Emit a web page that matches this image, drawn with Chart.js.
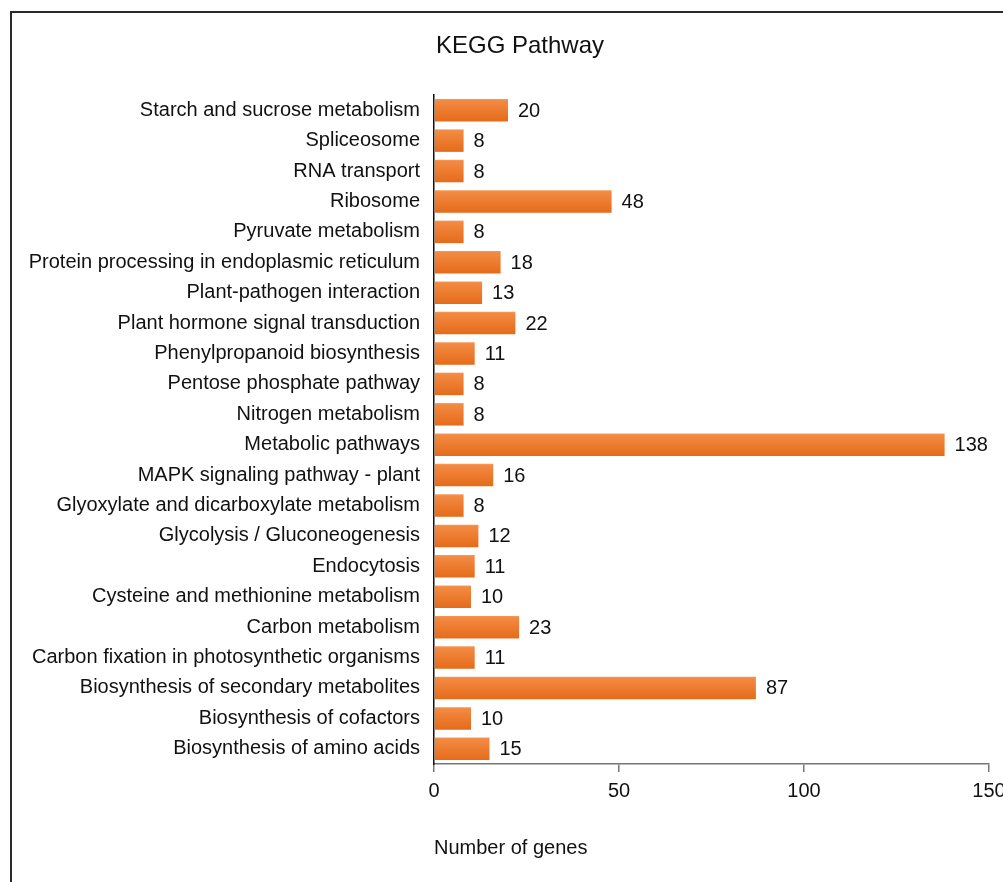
<!DOCTYPE html>
<html>
<head>
<meta charset="utf-8">
<script src="https://cdn.jsdelivr.net/npm/chart.js@4.4.1/dist/chart.umd.min.js"></script>
<style>
  html, body { margin: 0; padding: 0; background: #fff; overflow: hidden; width: 1003px; height: 882px; }
  #wrap { position: absolute; left: 0; top: 0; width: 1040px; height: 882px; }
  #frame { position: absolute; left: 10px; top: 11px; width: 1100px; height: 1000px;
           border-left: 2px solid #2a2a2a; border-top: 2px solid #2a2a2a; pointer-events: none; }
</style>
</head>
<body>
<div id="wrap"><canvas id="chart" width="1040" height="882"></canvas></div>
<div id="frame"></div>
<script>
// KEGG pathway categories and the number of genes in each
const pathways = [
  'Starch and sucrose metabolism',
  'Spliceosome',
  'RNA transport',
  'Ribosome',
  'Pyruvate metabolism',
  'Protein processing in endoplasmic reticulum',
  'Plant-pathogen interaction',
  'Plant hormone signal transduction',
  'Phenylpropanoid biosynthesis',
  'Pentose phosphate pathway',
  'Nitrogen metabolism',
  'Metabolic pathways',
  'MAPK signaling pathway - plant',
  'Glyoxylate and dicarboxylate metabolism',
  'Glycolysis / Gluconeogenesis',
  'Endocytosis',
  'Cysteine and methionine metabolism',
  'Carbon metabolism',
  'Carbon fixation in photosynthetic organisms',
  'Biosynthesis of secondary metabolites',
  'Biosynthesis of cofactors',
  'Biosynthesis of amino acids'
];
const geneCounts = [20, 8, 8, 48, 8, 18, 13, 22, 11, 8, 8, 138, 16, 8, 12, 11, 10, 23, 11, 87, 10, 15];
const xTicks = [0, 50, 100, 150];
const chartTitle = 'KEGG Pathway';

const FONT = "'Liberation Sans', Arial, sans-serif";
const BAR_PCT = 0.74;

// vertical orange shading for each bar, lighter on top
function barFill(ctx) {
  const chart = ctx.chart;
  const y = chart.scales && chart.scales.y;
  if (!y || ctx.dataIndex === undefined) return '#EE7C2F';
  const c = y.getPixelForValue(ctx.dataIndex);
  const half = (y.height / pathways.length) * BAR_PCT / 2;
  if (!isFinite(c) || !isFinite(half) || half <= 0) return '#EE7C2F';
  const g = chart.ctx.createLinearGradient(0, c - half, 0, c + half);
  g.addColorStop(0, '#F59A5A');
  g.addColorStop(0.08, '#F38A42');
  g.addColorStop(1, '#E56B1A');
  return g;
}

// value label to the right of each bar, plus the figure heading
const annotations = {
  id: 'annotations',
  afterDatasetsDraw(chart) {
    const ctx = chart.ctx;
    const meta = chart.getDatasetMeta(0);
    ctx.save();
    ctx.font = '20px ' + FONT;
    ctx.fillStyle = '#111';
    ctx.textAlign = 'left';
    ctx.textBaseline = 'middle';
    meta.data.forEach((bar, i) => {
      ctx.fillText(String(geneCounts[i]), bar.x + 10, bar.y + 1);
    });
    ctx.font = '24px ' + FONT;
    ctx.textAlign = 'center';
    ctx.fillText(chartTitle, 520, 46);
    ctx.restore();
  }
};

new Chart(document.getElementById('chart'), {
  type: 'bar',
  data: {
    labels: pathways,
    datasets: [{
      data: geneCounts,
      backgroundColor: barFill,
      borderWidth: 0,
      categoryPercentage: 1,
      barPercentage: BAR_PCT
    }]
  },
  options: {
    indexAxis: 'y',
    responsive: false,
    animation: false,
    devicePixelRatio: 1,
    layout: { padding: { left: 0, right: 51, top: 95, bottom: 22 } },
    plugins: {
      legend: { display: false },
      tooltip: { enabled: false },
      title: { display: false }
    },
    scales: {
      x: {
        min: 0,
        max: 150,
        afterBuildTicks(scale) { scale.ticks = xTicks.map(v => ({ value: v })); },
        grid: { display: true, drawOnChartArea: false, drawTicks: true, tickLength: 8, color: '#777', lineWidth: 1.5 },
        border: { display: true, color: '#777', width: 1.5 },
        ticks: { color: '#111', padding: 7, maxRotation: 0, font: { family: FONT, size: 20 } },
        title: {
          display: true,
          text: 'Number of genes',
          align: 'start',
          color: '#111',
          font: { family: FONT, size: 20 },
          padding: { top: 26, bottom: 0 }
        }
      },
      y: {
        afterFit(scale) { scale.width = 434; },
        grid: { display: false, drawTicks: false },
        border: { display: true, color: '#111', width: 1.5 },
        ticks: { color: '#111', padding: 14, autoSkip: false, font: { family: FONT, size: 20 } }
      }
    }
  },
  plugins: [annotations]
});
</script>
</body>
</html>
